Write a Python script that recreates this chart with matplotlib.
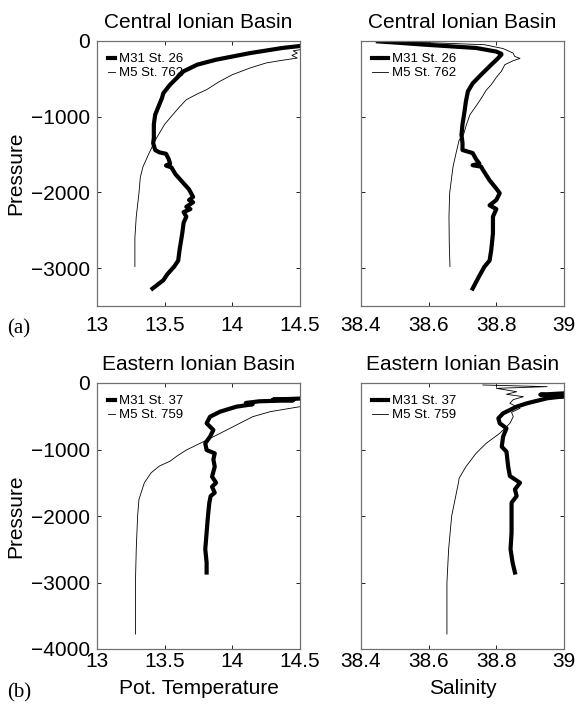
import matplotlib
matplotlib.use("Agg")
import matplotlib.pyplot as plt

plt.rcParams['font.family'] = ['Liberation Sans', 'DejaVu Sans']

# ---------------- data ----------------
# (a) Central Ionian Basin - potential temperature
a_t_m31_p = [-40, -66, -92, -160, -247, -313, -400, -577, -690, -753, -973, -1100, -1280, -1350,
             -1440, -1470, -1490, -1560, -1620, -1645, -1670, -1760, -1880, -1960, -2060, -2100,
             -2130, -2190, -2220, -2260, -2320, -2400, -2540, -2650, -2760, -2900, -2980, -3080,
             -3160, -3270]
a_t_m31 = [14.60, 14.50, 14.37, 14.13, 13.88, 13.74, 13.64, 13.54, 13.49, 13.48, 13.43, 13.42, 13.42, 13.415,
           13.43, 13.46, 13.51, 13.53, 13.54, 13.51, 13.55, 13.58, 13.64, 13.68, 13.71, 13.68,
           13.71, 13.66, 13.69, 13.64, 13.66, 13.64, 13.63, 13.62, 13.61, 13.60, 13.57, 13.52,
           13.49, 13.41]
a_t_m5_p = [-100, -130, -160, -190, -225, -260, -290, -357, -445, -540, -643, -700, -775, -870,
            -973, -1100, -1280, -1350, -1500, -1660, -1800, -2010, -2320, -2600, -2760, -2980]
a_t_m5 = [14.55, 14.45, 14.48, 14.44, 14.48, 14.35, 14.25, 14.13, 14.00, 13.90, 13.81, 13.74, 13.66, 13.61,
          13.56, 13.50, 13.44, 13.42, 13.38, 13.34, 13.32, 13.31, 13.29, 13.28, 13.28, 13.28]

# (a) Central Ionian Basin - salinity
a_s_m31_p = [-5, -20, -49, -92, -140, -170, -180, -250, -313, -445, -560, -665, -800, -930, -1100,
             -1237, -1350, -1440, -1480, -1560, -1620, -1640, -1660, -1700, -1840, -1950, -2010,
             -2100, -2170, -2220, -2320, -2540, -2760, -2900, -2980, -3100, -3270]
a_s_m31 = [38.45, 38.50, 38.59, 38.74, 38.80, 38.815, 38.815, 38.80, 38.785, 38.755, 38.73, 38.716, 38.71, 38.706, 38.70,
           38.697, 38.70, 38.70, 38.73, 38.74, 38.75, 38.73, 38.755, 38.76, 38.78, 38.80, 38.81,
           38.80, 38.78, 38.80, 38.79, 38.79, 38.785, 38.78, 38.765, 38.75, 38.73]
a_s_m5_p = [-10, -30, -49, -100, -160, -203, -230, -260, -313, -400, -480, -577, -650, -753, -860,
            -973, -1100, -1237, -1310, -1500, -1660, -2010, -2320, -2700, -2980]
a_s_m5 = [38.52, 38.65, 38.765, 38.82, 38.85, 38.854, 38.87, 38.85, 38.825, 38.815, 38.80, 38.785, 38.77, 38.756, 38.74,
          38.722, 38.712, 38.703, 38.69, 38.68, 38.672, 38.662, 38.66, 38.661, 38.663]

# (b) Eastern Ionian Basin - potential temperature
b_t_m31_p = [-230, -250, -260, -275, -300, -320, -356, -431, -507, -606, -707, -808, -907, -1008,
             -1058, -1150, -1259, -1409, -1500, -1560, -1650, -1700, -1800, -2000, -2250, -2500,
             -2700, -2850]
b_t_m31 = [14.55, 14.30, 14.45, 14.20, 14.10, 14.15, 14.03, 13.91, 13.835, 13.81, 13.86, 13.835, 13.80, 13.81,
           13.87, 13.86, 13.87, 13.85, 13.88, 13.85, 13.87, 13.84, 13.83, 13.82, 13.81, 13.80,
           13.81, 13.81]
b_t_m5_p = [-330, -356, -431, -507, -632, -757, -883, -1008, -1100, -1175, -1250, -1350, -1500,
            -1750, -2000, -2500, -3000, -3775]
b_t_m5 = [14.55, 14.50, 14.28, 14.15, 14.03, 13.91, 13.786, 13.66, 13.59, 13.54, 13.46, 13.40, 13.35,
          13.31, 13.30, 13.29, 13.284, 13.284]

# (b) Eastern Ionian Basin - salinity
b_s_m31_p = [-150, -175, -200, -230, -306, -356, -406, -456, -531, -606, -681, -807, -958, -1033,
             -1259, -1400, -1433, -1500, -1600, -1700, -1800, -2000, -2250, -2500, -2700, -2850]
b_s_m31 = [39.02, 38.93, 39.00, 38.95, 38.89, 38.86, 38.84, 38.82, 38.806, 38.81, 38.83, 38.82, 38.816, 38.83,
           38.835, 38.84, 38.85, 38.87, 38.855, 38.86, 38.845, 38.845, 38.845, 38.842, 38.848, 38.855]
b_s_m5_p = [-30, -55, -80, -131, -170, -206, -250, -306, -380, -440, -507, -606, -757, -907, -1058,
            -1259, -1433, -1500, -1750, -2000, -2500, -3000, -3775]
b_s_m5 = [38.76, 38.95, 38.80, 38.86, 38.83, 38.88, 38.85, 38.84, 38.87, 38.845, 38.85, 38.84, 38.81, 38.77, 38.74,
          38.71, 38.69, 38.688, 38.678, 38.668, 38.659, 38.654, 38.654]

titles = ["Central Ionian Basin", "Central Ionian Basin", "Eastern Ionian Basin", "Eastern Ionian Basin"]
labels_a = ["M31 St. 26", "M5 St. 762"]
labels_b = ["M31 St. 37", "M5 St. 759"]
t_ticks = [13, 13.5, 14, 14.5]
s_ticks = [38.4, 38.6, 38.8, 39]
t_ticklabels = ["13", "13.5", "14", "14.5"]
s_ticklabels = ["38.4", "38.6", "38.8", "39"]
p_ticks_a = [0, -1000, -2000, -3000]
p_ticks_b = [0, -1000, -2000, -3000, -4000]

# ---------------- figure ----------------
W, H = 577, 704
fig = plt.figure(figsize=(W / 100, H / 100), dpi=100)

def ax_at(x0, y0, x1, y1):
    return fig.add_axes([x0 / W, 1 - y1 / H, (x1 - x0) / W, (y1 - y0) / H])

ax_a_t = ax_at(97, 41, 300, 306)
ax_a_s = ax_at(361, 41, 564, 306)
ax_b_t = ax_at(97, 383, 300, 649)
ax_b_s = ax_at(361, 383, 564, 649)

THICK = 3.0
THIN = 0.6

def style(ax, xticks, xticklabels, xlim, yticks, ylim, title, show_y, xpad):
    ax.set_xlim(*xlim)
    ax.set_ylim(*ylim)
    ax.set_xticks(xticks)
    ax.set_xticklabels(xticklabels)
    ax.set_yticks(yticks)
    if not show_y:
        ax.set_yticklabels([])
    ax.tick_params(direction='in', top=True, right=True, length=3, width=0.7,
                   labelsize=15, color='#222222')
    ax.tick_params(axis='x', pad=xpad)
    ax.tick_params(axis='y', pad=5)
    for s in ax.spines.values():
        s.set_color('#707070')
        s.set_linewidth(0.9)
    ax.set_title(title, fontsize=15, pad=9)

def legend(ax, labels, hl, htp):
    ax.legend(labels, loc='upper left', bbox_to_anchor=(0.055, 0.955), frameon=False,
              fontsize=9.5, handlelength=hl, handletextpad=htp, labelspacing=0.15,
              borderpad=0, borderaxespad=0)

# (a) temperature
ax_a_t.plot(a_t_m31, a_t_m31_p, color='black', lw=THICK, solid_joinstyle='round')
ax_a_t.plot(a_t_m5, a_t_m5_p, color='black', lw=THIN)
style(ax_a_t, t_ticks, t_ticklabels, (13, 14.5), p_ticks_a, (-3500, 0), titles[0], True, 7)
ax_a_t.set_ylabel("Pressure", fontsize=15, labelpad=4)
legend(ax_a_t, labels_a, 0.5, 0.3)

# (a) salinity
ax_a_s.plot(a_s_m31, a_s_m31_p, color='black', lw=THICK, solid_joinstyle='round')
ax_a_s.plot(a_s_m5, a_s_m5_p, color='black', lw=THIN)
style(ax_a_s, s_ticks, s_ticklabels, (38.4, 39), p_ticks_a, (-3500, 0), titles[1], False, 7)
legend(ax_a_s, labels_a, 1.2, 0.3)

# (b) temperature
ax_b_t.plot(b_t_m31, b_t_m31_p, color='black', lw=THICK, solid_joinstyle='round')
ax_b_t.plot(b_t_m5, b_t_m5_p, color='black', lw=THIN)
style(ax_b_t, t_ticks, t_ticklabels, (13, 14.5), p_ticks_b, (-4000, 0), titles[2], True, 2)
ax_b_t.set_ylabel("Pressure", fontsize=15, labelpad=4)
ax_b_t.set_xlabel("Pot. Temperature", fontsize=15, labelpad=6)
legend(ax_b_t, labels_b, 0.5, 0.3)

# (b) salinity
ax_b_s.plot(b_s_m31, b_s_m31_p, color='black', lw=THICK, solid_joinstyle='round')
ax_b_s.plot(b_s_m5, b_s_m5_p, color='black', lw=THIN)
style(ax_b_s, s_ticks, s_ticklabels, (38.4, 39), p_ticks_b, (-4000, 0), titles[3], False, 2)
ax_b_s.set_xlabel("Salinity", fontsize=15, labelpad=6)
legend(ax_b_s, labels_b, 1.2, 0.3)

fig.text(7 / W, 1 - 328.5 / H, "(a)", fontsize=15, family=['Liberation Serif', 'DejaVu Serif'],
         ha='left', va='center')
fig.text(7 / W, 1 - 692.5 / H, "(b)", fontsize=15, family=['Liberation Serif', 'DejaVu Serif'],
         ha='left', va='center')

fig.savefig("out.png", dpi=100)
